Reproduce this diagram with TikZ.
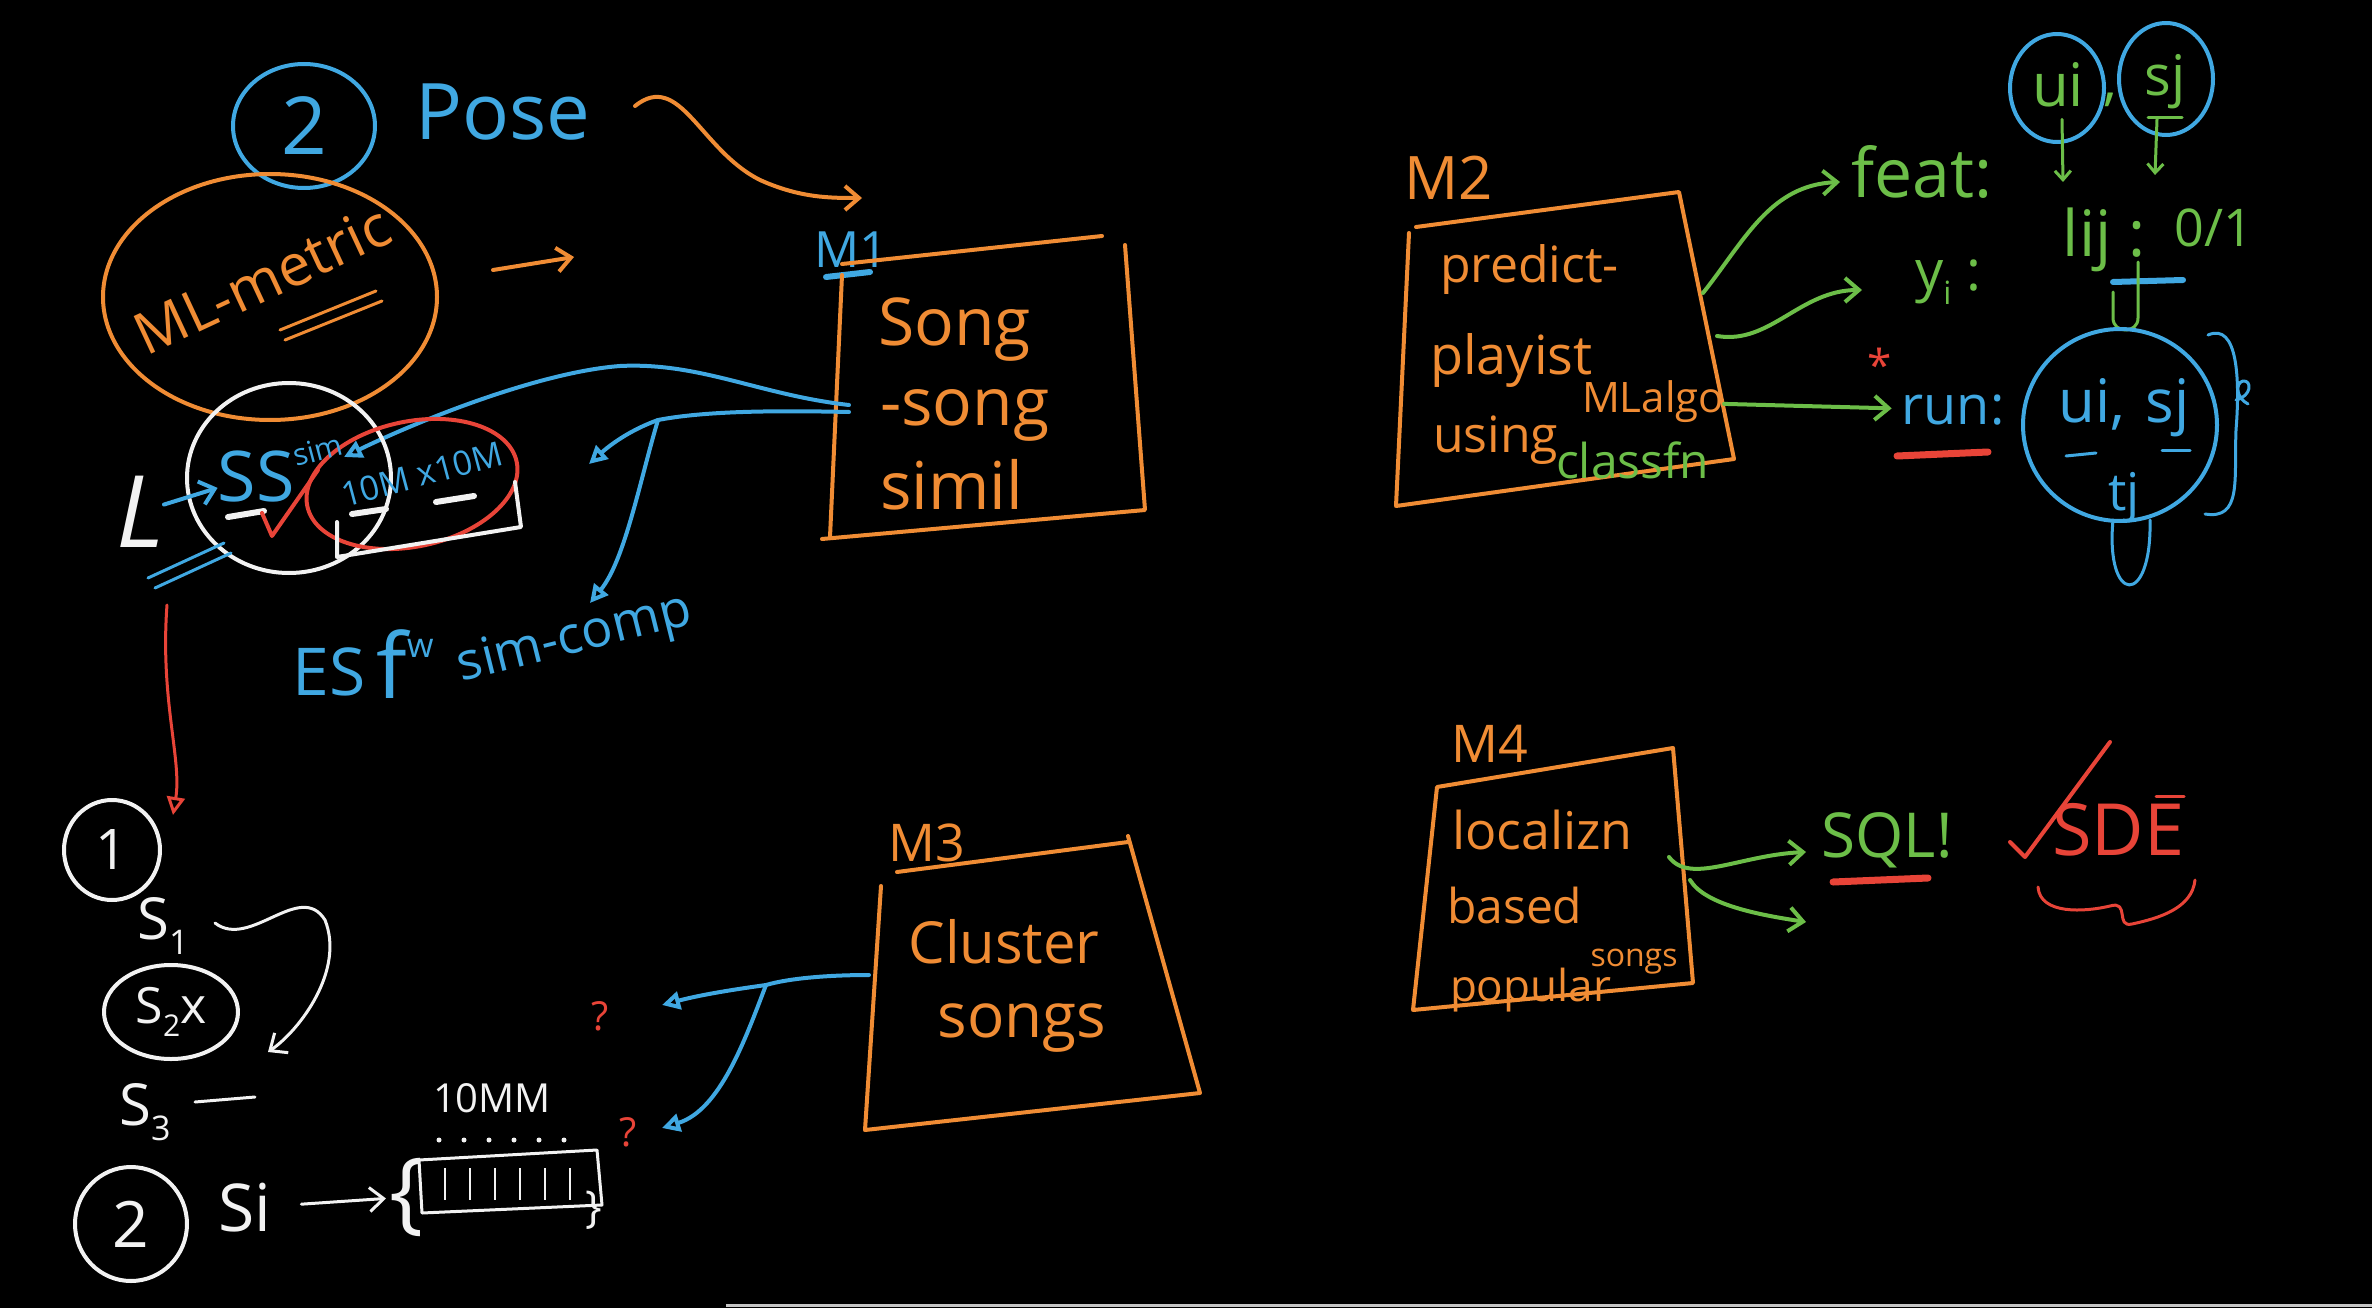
\documentclass[tikz,border=0pt]{standalone}
\usepackage{fontspec}
\setmainfont{Open Sans}
\usetikzlibrary{arrows.meta,shapes.geometric,calc}
\definecolor{ora}{RGB}{240,140,52}
\definecolor{blu}{RGB}{64,168,226}
\definecolor{grn}{RGB}{108,190,72}
\definecolor{rd}{RGB}{232,68,56}
\definecolor{wht}{RGB}{242,242,242}
\newcommand\myfs[1]{\fontsize{#1}{#1}\selectfont}
\newcommand\mysub[2]{\raisebox{-0.25em}{\fontsize{#1}{#1}\selectfont #2}}
\begin{document}
\begin{tikzpicture}[x=1pt,y=-1pt,
  pen/.style={line width=4pt,line cap=round,line join=round},
  thinpen/.style={line width=3pt,line cap=round,line join=round},
  txt/.style={inner sep=0pt,outer sep=0pt},
  ring/.style={ellipse,draw,pen,inner sep=0pt},
  barb/.style={-{Straight Barb[length=14pt,width=24pt]}},
  smallbarb/.style={-{Straight Barb[length=9pt,width=16pt]}},
  tri/.style={-{Triangle[open,length=18pt,width=18pt]}},
]
\fill[black] (0,0) rectangle (2372,1308);
\useasboundingbox (0,0) rectangle (2372,1308);

% ---------------- top left: 2 Pose, ML-metric ----------------
\node[ring,blu,minimum width=142pt,minimum height=124pt,font=\myfs{80}] (ctwo) at (304,126) {2};
\node[txt,blu,font=\myfs{78}] (pose) at (503,112) {Pose};
\node[ring,ora,minimum width=334pt,minimum height=246pt] (mlell) at (270,297) {};
\node[txt,ora,font=\myfs{58},rotate=25] (mlm) at (262,280) {ML-metric};
\draw[ora,thinpen] (280,330) -- (376,291);
\draw[ora,thinpen] (285,340) -- (382,301);
\coordinate (sa1) at (493,270);
\coordinate (sa2) at (574,257);
\draw[ora,pen,barb] (sa1) -- (sa2);
\coordinate (poseout) at (635,106);
\coordinate (m1in) at (862,198);
\draw[ora,pen,barb] (poseout) .. controls (680,70) and (700,150) .. (760,180) .. controls (800,198) and (830,198) .. (m1in);

% ---------------- M1 ----------------
\node[txt,blu,font=\myfs{50}] (m1lab) at (851,250) {M1};
\draw[blu,pen,line width=6pt] (826,277) -- (870,272);
\draw[ora,pen] (842,264) -- (1102,236) (1125,245) -- (1145,510) -- (822,539) (842,275) -- (830,537);
\node[txt,ora,font=\myfs{66},anchor=west] (song1) at (878,330) {Song};
\node[txt,ora,font=\myfs{66},anchor=west] (song2) at (880,415) {-song};
\node[txt,ora,font=\myfs{66},anchor=west] (song3) at (880,485) {simil};

\coordinate (m1w) at (849,405);
\coordinate (m1w2) at (849,412);
\coordinate (split1) at (658,420);
\coordinate (tgta) at (344,457);
\coordinate (tgtb) at (589,464);
\coordinate (tgtc) at (590,603);
\draw[blu,pen,tri] (m1w) .. controls (760,395) and (700,362) .. (620,366) .. controls (540,372) and (420,420) .. (tgta);
\draw[blu,pen] (m1w2) .. controls (760,410) and (700,412) .. (split1);
\draw[blu,pen,tri] (split1) .. controls (630,430) and (610,445) .. (tgtb);
\draw[blu,pen,tri] (split1) .. controls (640,480) and (625,560) .. (tgtc);

% ---------------- SS sim ----------------
\node[ring,wht,minimum width=204pt,minimum height=190pt] (wcirc) at (289,478) {};
\node[ring,rd,minimum width=214pt,minimum height=125pt,rotate=12] (rell) at (412,484) {};
\draw[wht,pen] (337,522) -- (337,557) -- (521,527) -- (515,482);
\node[txt,blu,font=\myfs{70}] (ss) at (256,476) {SS};
\node[txt,blu,font=\myfs{30},rotate=15] (sim) at (318,450) {sim};
\node[txt,blu,font=\myfs{34},rotate=15] (tenm) at (422,474) {10M x10M};
\draw[wht,pen,line width=6pt] (228,517) -- (264,511);
\draw[wht,pen,line width=6pt] (352,514) -- (386,509);
\draw[wht,pen,line width=6pt] (436,502) -- (474,496);
\draw[rd,pen] (262,513) -- (272,536) -- (318,470);
\node[txt,wht,font=\myfs{100}\itshape] (ell) at (140,512) {L};
\draw[blu,pen,barb] (ell) -- (ss);
\draw[blu,thinpen] (148,578) -- (224,543);
\draw[blu,thinpen] (155,588) -- (231,553);

% ES f^w sim-comp
\node[txt,blu,font=\myfs{66}] (es) at (329,672) {ES};
\node[txt,blu,font=\myfs{90}] (fw) at (405,664) {f\raisebox{0.45em}{\myfs{34}w}};
\node[txt,blu,font=\myfs{52},rotate=14] (simcomp) at (575,640) {sim-comp};

% ---------------- bottom left ----------------
\node[ring,wht,minimum width=96pt,minimum height=100pt,font=\myfs{56}] (one) at (112,850) {1};
\coordinate (redtop) at (167,605);
\coordinate (redend) at (173,815);
\draw[rd,thinpen,tri] (redtop) .. controls (160,700) and (182,760) .. (redend);

\node[txt,wht,font=\myfs{58}] (s1) at (163,926) {S\mysub{34}{1}};
\coordinate (s1out) at (215,923);
\coordinate (s3in) at (268,1052);
\draw[wht,thinpen,barb] (s1out) .. controls (250,950) and (300,880) .. (325,920) .. controls (345,970) and (300,1030) .. (s3in);
\node[ring,wht,minimum width=134pt,minimum height=94pt,font=\myfs{50}] (s2) at (171,1012) {S\mysub{30}{2}x};
\node[txt,wht,font=\myfs{58}] (s3) at (145,1112) {S\mysub{34}{3}};
\draw[wht,thinpen] (195,1102) -- (255,1097);
\node[ring,wht,minimum width=112pt,minimum height=114pt,font=\myfs{64}] (ctwob) at (131,1224) {2};
\node[txt,wht,font=\myfs{66}] (si) at (245,1208) {Si};
\node[txt,wht,font=\myfs{90}] (lbrace) at (407,1197) {\{};
\draw[wht,thinpen,barb,shorten <=30pt,shorten >=4pt] (si) -- (lbrace);
\draw[wht,thinpen] (419,1160) -- (597,1150) -- (602,1205) -- (422,1213) -- cycle;
\foreach \tx in {445,470,495,520,545,570}{
  \draw[wht,line width=2.5pt] (\tx,1168) -- (\tx,1200);
  \fill[wht] (\tx-6,1140) circle (2.5pt);
}
\node[txt,wht,font=\myfs{40}] (tenmm) at (492,1098) {10MM};
\node[txt,wht,font=\myfs{44}] (rbrace) at (594,1210) {\}};
\node[txt,rd,font=\myfs{40}] (q1) at (600,1016) {?};
\node[txt,rd,font=\myfs{40}] (q2) at (628,1132) {?};

% ---------------- M3 ----------------
\node[txt,ora,font=\myfs{52}] (m3lab) at (927,843) {M3};
\draw[ora,pen] (897,872) -- (1128,842) (1128,836) -- (1200,1093) -- (865,1130) (881,886) -- (865,1130);
\node[txt,ora,font=\myfs{58}] (clus) at (1004,942) {Cluster};
\node[txt,ora,font=\myfs{62}] (songs) at (1022,1028) {songs};
\coordinate (m3w) at (869,975);
\coordinate (split2) at (766,985);
\coordinate (tgtd) at (662,1005);
\coordinate (tgte) at (662,1128);
\draw[blu,pen] (m3w) .. controls (830,975) and (790,978) .. (split2);
\draw[blu,pen,tri] (split2) .. controls (730,990) and (700,995) .. (tgtd);
\draw[blu,pen,tri] (split2) .. controls (745,1040) and (720,1110) .. (tgte);

% ---------------- M2 ----------------
\node[txt,ora,font=\myfs{60}] (m2lab) at (1449,178) {M2};
\draw[ora,pen] (1416,227) -- (1679,192) -- (1734,459) -- (1396,506) -- (1409,233);
\node[txt,ora,font=\myfs{50},anchor=west] (pred) at (1440,270) {predict-};
\node[txt,ora,font=\myfs{54},anchor=west] (play) at (1430,360) {playist};
\node[txt,ora,font=\myfs{50},anchor=west] (using) at (1433,440) {using};
\node[txt,ora,font=\myfs{42},anchor=west] (mlalgo) at (1582,402) {MLalgo};
\node[txt,grn,font=\myfs{48},anchor=west] (classfn) at (1556,460) {classfn};

\node[txt,grn,font=\myfs{68}] (feat) at (1922,172) {feat:};
\node[txt,grn,font=\myfs{56}] (yi) at (1948,282) {y\mysub{32}{i} :};
\node[txt,blu,font=\myfs{54}] (run) at (1953,410) {run:};
\node[txt,rd,font=\myfs{44}] (star) at (1880,365) {*};
\draw[rd,pen,line width=7pt] (1897,456) -- (1988,452);
\coordinate (g1s) at (1703,293);
\coordinate (g1e) at (1840,182);
\coordinate (g2s) at (1717,336);
\coordinate (g2e) at (1862,290);
\draw[grn,pen,barb] (g1s) .. controls (1745,240) and (1770,185) .. (g1e);
\draw[grn,pen,barb] (g2s) .. controls (1770,345) and (1800,290) .. (g2e);
\draw[grn,pen,barb,shorten >=10pt] (mlalgo) -- (run);

\node[ring,blu,minimum width=94pt,minimum height=108pt] (cu) at (2057,88) {};
\node[ring,blu,minimum width=94pt,minimum height=112pt] (cs) at (2166,79) {};
\node[txt,grn,font=\myfs{60}] (ui) at (2058,85) {ui};
\node[txt,grn,font=\myfs{56}] (sj) at (2165,82) {sj};
\node[txt,grn,font=\myfs{56}] (comma) at (2110,100) {,};
\draw[grn,thinpen] (2148,118) -- (2182,118);
\draw[grn,thinpen,smallbarb] (ui.south) ++(4,12) coordinate (uid) -- (2063,182);
\draw[grn,thinpen,smallbarb] (sj.south) ++(-8,10) coordinate (sjd) -- (2155,175);
\node[txt,grn,font=\myfs{64}] (lij) at (2104,240) {lij :};
\node[txt,grn,font=\myfs{52}] (zo) at (2214,228) {0/1};
\draw[blu,pen,line width=6pt] (2113,282) -- (2183,280);
\draw[grn,thinpen] (2138,262) -- (2138,318) .. controls (2138,334) and (2113,334) .. (2113,318) -- (2113,292);

\node[ring,blu,minimum width=194pt,minimum height=192pt] (bigc) at (2120,425) {};
\node[txt,blu,font=\myfs{60}] (usj) at (2124,408) {ui,\,\,sj};
\draw[blu,thinpen] (2066,456) -- (2096,453);
\draw[blu,thinpen] (2162,450) -- (2190,450);
\node[txt,blu,font=\myfs{52}] (tj) at (2124,498) {tj};
\draw[blu,thinpen] (2208,335) .. controls (2238,322) and (2240,380) .. (2236,430) .. controls (2234,480) and (2242,520) .. (2205,514);
\draw[blu,thinpen] (2236,400) .. controls (2252,396) and (2252,380) .. (2243,381) .. controls (2235,383) and (2236,398) .. (2248,404);
\draw[blu,thinpen] (2113,520) .. controls (2105,605) and (2152,608) .. (2150,520);

% ---------------- M4 ----------------
\node[txt,ora,font=\myfs{52}] (m4lab) at (1490,744) {M4};
\draw[ora,pen] (1437,787) -- (1673,748) -- (1693,983) -- (1413,1010) -- cycle;
\node[txt,ora,font=\myfs{52},anchor=west] (loc) at (1452,830) {localizn};
\node[txt,ora,font=\myfs{48},anchor=west] (based) at (1447,905) {based};
\node[txt,ora,font=\myfs{44},anchor=west] (popular) at (1450,990) {popular};
\node[txt,ora,font=\myfs{32}] (songsb) at (1634,962) {songs};
\coordinate (g4a) at (1669,857);
\coordinate (g4ae) at (1806,852);
\coordinate (g4b) at (1690,880);
\coordinate (g4be) at (1806,922);
\draw[grn,pen,barb] (g4a) .. controls (1690,885) and (1740,855) .. (g4ae);
\draw[grn,pen,barb] (g4b) .. controls (1705,905) and (1760,915) .. (g4be);
\node[txt,grn,font=\myfs{62}] (sql) at (1887,840) {SQL!};
\draw[rd,pen,line width=7pt] (1833,882) -- (1928,878);
\draw[rd,pen] (2010,842) -- (2025,857) -- (2110,742);
\node[txt,rd,font=\myfs{72}] (sde) at (2118,830) {SDE};
\draw[rd,thinpen] (2156,796) -- (2184,796);
\draw[rd,thinpen] (2038,887) .. controls (2040,915) and (2085,912) .. (2110,906) .. controls (2130,900) and (2115,928) .. (2132,924) .. controls (2160,918) and (2192,908) .. (2195,880);

% bottom bar
\draw[gray!45,line width=3pt] (726,1305) -- (2372,1305);
\end{tikzpicture}
\end{document}
